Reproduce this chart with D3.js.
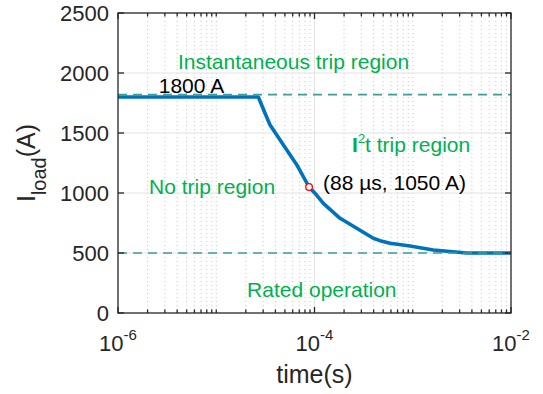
<!DOCTYPE html>
<html>
<head>
<meta charset="utf-8">
<script src="https://cdn.jsdelivr.net/npm/d3@7"></script>
<style>
  html, body { margin: 0; padding: 0; background: #fff; }
  svg { display: block; font-family: "Liberation Sans", Arial, Helvetica, sans-serif; }
</style>
</head>
<body>
<svg id="chart" width="543" height="394"></svg>
<script>
// Breaker trip curve: load current vs. time
const timeS    = [1e-6, 2.68e-5, 3.13e-5, 3.52e-5, 4.81e-5, 6.59e-5, 8.8e-5, 1.05e-4, 1.23e-4, 1.82e-4, 2.69e-4, 3.97e-4, 4.65e-4, 5.87e-4, 9.38e-4, 1.62e-3, 3.54e-3, 1e-2];
const currentA = [1800,    1800,    1667,    1569,    1403,    1236,   1050,     983,     914,     789,     706,     623,     603,     581,     558,     525,     500,  500];

const instantaneousA = 1820;   // instantaneous trip threshold
const ratedA = 500;            // rated current
const pickupA = 1800;          // flat pickup level of the curve
const markPoint = { t: 88e-6, i: 1050 };

const yTickValues = [0, 500, 1000, 1500, 2000, 2500];
const xTickValues = [1e-6, 1e-4, 1e-2];
const xTickExponents = ["-6", "-4", "-2"];
const xDecades = [-6, -5, -4, -3];

const regionLabels = [
  { text: "Instantaneous trip region", t: 4.08e-6, i: 2033 },
  { text: "No trip region", t: 2.07e-6, i: 992 },
  { text: "Rated operation", t: 2.06e-5, i: 133 }
];
const i2tLabel = { t: 2.41e-4, i: 1342 };
const pickupLabel = { t: 2.6e-6, i: 1833 };

const W = 543, H = 394;
const m = { left: 118, right: 32, top: 13, bottom: 81 };
const svg = d3.select("#chart");

const x = d3.scaleLog().domain([1e-6, 1e-2]).range([m.left, W - m.right]);
const y = d3.scaleLinear().domain([0, 2500]).range([H - m.bottom, m.top]);

const axisColor = "#262626";
const green = "#00b050";
const plotL = x.range()[0], plotR = x.range()[1];
const plotT = y.range()[1], plotB = y.range()[0];

// minor log positions for the x axis
const minorX = [];
xDecades.forEach(k => {
  for (let d = 1; d <= 9; d++) {
    const v = d * Math.pow(10, k);
    if (!xTickValues.some(t => Math.abs(t - v) / t < 1e-9)) minorX.push(v);
  }
});

// grid
const grid = svg.append("g");
grid.selectAll("line.minor").data(minorX).join("line")
  .attr("x1", d => x(d)).attr("x2", d => x(d))
  .attr("y1", plotT).attr("y2", plotB)
  .attr("stroke", "#c8c8c8").attr("stroke-width", 1)
  .attr("stroke-dasharray", "1,3");
grid.selectAll("line.majorY").data(yTickValues.slice(1, -1)).join("line")
  .attr("x1", plotL).attr("x2", plotR)
  .attr("y1", d => y(d)).attr("y2", d => y(d))
  .attr("stroke", "#e3e3e3").attr("stroke-width", 1);
grid.selectAll("line.majorX").data(xTickValues.slice(1, -1)).join("line")
  .attr("x1", d => x(d)).attr("x2", d => x(d))
  .attr("y1", plotT).attr("y2", plotB)
  .attr("stroke", "#e3e3e3").attr("stroke-width", 1);

// trip curve
const line = d3.line().x((d, i) => x(timeS[i])).y(d => y(d));
svg.append("path").datum(currentA)
  .attr("d", line)
  .attr("fill", "none")
  .attr("stroke", "#0072bd")
  .attr("stroke-width", 3.6)
  .attr("stroke-linejoin", "round");

// threshold lines
[instantaneousA, ratedA].forEach(v => {
  svg.append("line")
    .attr("x1", plotL).attr("x2", plotR)
    .attr("y1", y(v)).attr("y2", y(v))
    .attr("stroke", "#3a9e9a").attr("stroke-width", 1.6)
    .attr("stroke-dasharray", "9,6");
});

// marked point
svg.append("circle")
  .attr("cx", x(markPoint.t)).attr("cy", y(markPoint.i))
  .attr("r", 3.3)
  .attr("fill", "#fff").attr("stroke", "#ff0000").attr("stroke-width", 1.3);

// axes box and ticks (inside)
const axes = svg.append("g").attr("stroke", axisColor).attr("stroke-width", 1.3).attr("fill", "none");
axes.append("rect").attr("x", plotL).attr("y", plotT).attr("width", plotR - plotL).attr("height", plotB - plotT);
yTickValues.forEach(v => {
  axes.append("line").attr("x1", plotL).attr("x2", plotL + 6).attr("y1", y(v)).attr("y2", y(v));
  axes.append("line").attr("x1", plotR).attr("x2", plotR - 6).attr("y1", y(v)).attr("y2", y(v));
});
xTickValues.forEach(v => {
  axes.append("line").attr("x1", x(v)).attr("x2", x(v)).attr("y1", plotB).attr("y2", plotB - 6);
  axes.append("line").attr("x1", x(v)).attr("x2", x(v)).attr("y1", plotT).attr("y2", plotT + 6);
});
minorX.forEach(v => {
  axes.append("line").attr("x1", x(v)).attr("x2", x(v)).attr("y1", plotB).attr("y2", plotB - 3.5);
  axes.append("line").attr("x1", x(v)).attr("x2", x(v)).attr("y1", plotT).attr("y2", plotT + 3.5);
});

// y tick labels
svg.append("g").selectAll("text").data(yTickValues).join("text")
  .attr("x", plotL - 9).attr("y", d => y(d))
  .attr("dy", "0.36em")
  .attr("text-anchor", "end")
  .attr("font-size", 22).attr("fill", axisColor)
  .text(d => d);

// x tick labels as powers of ten
const xl = svg.append("g").selectAll("text").data(xTickValues).join("text")
  .attr("x", d => x(d)).attr("y", 351)
  .attr("text-anchor", "middle")
  .attr("font-size", 22).attr("fill", axisColor);
xl.append("tspan").text("10");
xl.append("tspan").attr("dy", -11).attr("font-size", 15).text((d, i) => xTickExponents[i]);

// axis titles
svg.append("text")
  .attr("x", (plotL + plotR) / 2).attr("y", 383)
  .attr("text-anchor", "middle")
  .attr("font-size", 25).attr("fill", axisColor)
  .text("time(s)");

const yt = svg.append("text")
  .attr("transform", `translate(35,${(plotT + plotB) / 2}) rotate(-90)`)
  .attr("text-anchor", "middle")
  .attr("font-size", 25).attr("fill", axisColor);
yt.append("tspan").text("I");
yt.append("tspan").attr("font-size", 20).attr("dy", 11).text("load");
yt.append("tspan").attr("dy", -11).text("(A)");

// region annotations
svg.append("g").selectAll("text").data(regionLabels).join("text")
  .attr("x", d => x(d.t)).attr("y", d => y(d.i))
  .attr("text-anchor", "start")
  .attr("font-size", 21).attr("fill", green)
  .text(d => d.text);

const i2t = svg.append("text")
  .attr("x", x(i2tLabel.t)).attr("y", y(i2tLabel.i))
  .attr("font-size", 21).attr("fill", green);
i2t.append("tspan").attr("font-weight", "bold").text("I");
i2t.append("tspan").attr("dy", -9).attr("font-size", 13).text("2");
i2t.append("tspan").attr("dy", 9).text("t trip region");

svg.append("text")
  .attr("x", x(pickupLabel.t)).attr("y", y(pickupLabel.i))
  .attr("font-size", 21).attr("fill", "#000")
  .text(`${pickupA} A`);

svg.append("text")
  .attr("x", x(markPoint.t) + 14).attr("y", y(markPoint.i) + 3)
  .attr("font-size", 21).attr("fill", "#000")
  .text(`(${Math.round(markPoint.t * 1e6)} µs, ${markPoint.i} A)`);
</script>
</body>
</html>
